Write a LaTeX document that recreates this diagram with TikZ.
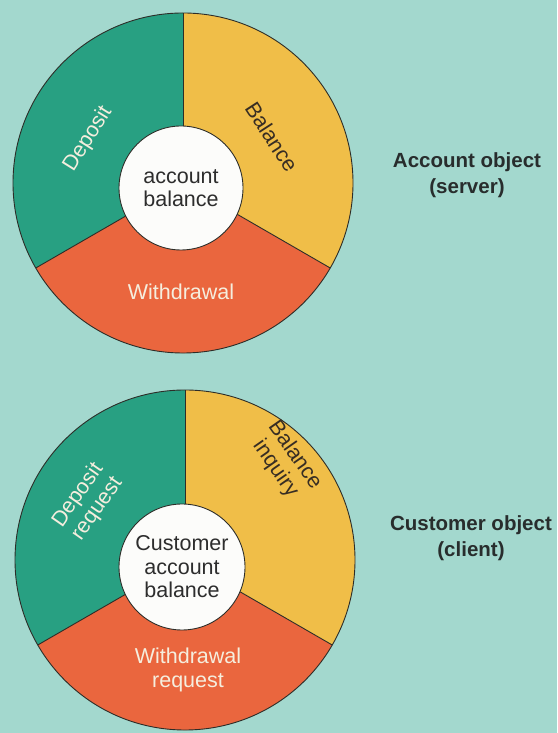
\documentclass[tikz,border=0pt]{standalone}
\usepackage{fontspec}
\setmainfont{Liberation Sans}
\begin{document}
\begin{tikzpicture}[x=1pt,y=1pt,
  lbl/.style={font=\fontsize{21.5}{23.5}\selectfont, align=center, inner sep=0pt},
  lightlbl/.style={lbl, text=lighttxt},
  darklbl/.style={lbl, text=darktxt},
  side/.style={font=\fontsize{20.5}{26}\bfseries\selectfont, align=center, text=sidetxt, inner sep=0pt},
  hub/.style={circle, draw=edge, line width=0.9pt, fill=hubfill, minimum size=124pt, inner sep=0pt,
              font=\fontsize{21.5}{23.5}\selectfont, align=center, text=hubtxt},
  edgeline/.style={draw=edge, line width=0.9pt}]
\definecolor{bg}{RGB}{163,216,206}
\definecolor{segg}{RGB}{40,160,130}
\definecolor{segy}{RGB}{240,190,72}
\definecolor{segr}{RGB}{234,102,62}
\definecolor{edge}{RGB}{45,45,40}
\definecolor{lighttxt}{RGB}{245,238,222}
\definecolor{darktxt}{RGB}{55,45,35}
\definecolor{hubtxt}{RGB}{45,45,45}
\definecolor{hubfill}{RGB}{252,252,250}
\definecolor{sidetxt}{RGB}{40,45,45}
\fill[bg] (0,0) rectangle (557,733);
\useasboundingbox (0,0) rectangle (557,733);

% ---------- top donut ----------
\coordinate (T) at (183,550);
\fill[segg] (T) -- ++(90:170) arc (90:210:170) -- cycle;
\fill[segr] (T) -- ++(210:170) arc (210:330:170) -- cycle;
\fill[segy] (T) -- ++(330:170) arc (330:450:170) -- cycle;
\draw[edgeline] (T) circle (170);
\draw[edgeline] (T) -- ++(90:170) coordinate (Ta);
\draw[edgeline] (T) -- ++(210:170) coordinate (Tb);
\draw[edgeline] (T) -- ++(330:170) coordinate (Tc);
\node[hub] (thub) at (181,545) {account\\balance};
\node[lightlbl, rotate=58] (tdep) at (88,594) {Deposit};
\node[darklbl, rotate=-57] (tbal) at (272,596) {Balance};
\node[lightlbl] (twd) at (181,441) {Withdrawal};
\node[side] (tside) at (467,558) {Account object\\(server)};

% ---------- bottom donut ----------
\coordinate (B) at (185,173);
\fill[segg] (B) -- ++(90:170) arc (90:210:170) -- cycle;
\fill[segr] (B) -- ++(210:170) arc (210:330:170) -- cycle;
\fill[segy] (B) -- ++(330:170) arc (330:450:170) -- cycle;
\draw[edgeline] (B) circle (170);
\draw[edgeline] (B) -- ++(90:170) coordinate (Ba);
\draw[edgeline] (B) -- ++(210:170) coordinate (Bb);
\draw[edgeline] (B) -- ++(330:170) coordinate (Bc);
\node[hub, minimum size=126pt] (bhub) at (182,166) {Customer\\account\\balance};
\node[lightlbl, rotate=55] (bdep) at (88,231) {Deposit\\request};
\node[darklbl, rotate=-55] (bbal) at (285,271) {Balance\\inquiry};
\node[lightlbl] (bwd) at (188,63) {Withdrawal\\request};
\node[side] (bside) at (471,195) {Customer object\\(client)};
\end{tikzpicture}
\end{document}
